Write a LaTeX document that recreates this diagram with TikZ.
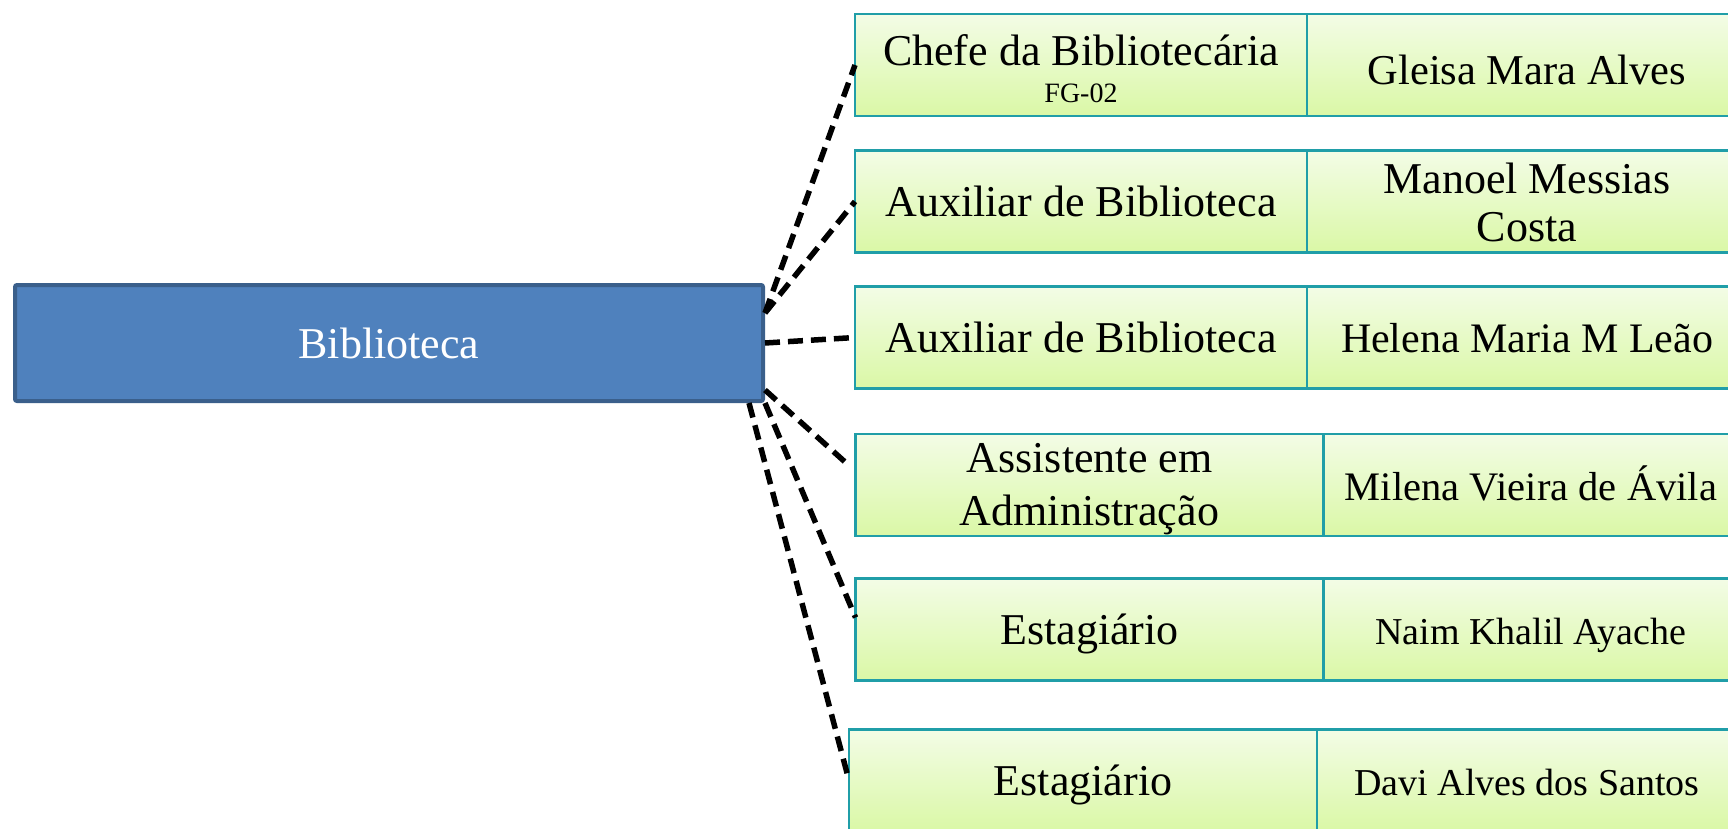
\documentclass[tikz,border=0pt]{standalone}
\usepackage{fontspec}
\setmainfont{Liberation Serif}
\definecolor{verdeclaro}{RGB}{243,252,230}
\definecolor{verdeescuro}{RGB}{218,248,166}
\definecolor{borda}{RGB}{32,158,168}
\definecolor{azul}{RGB}{79,129,189}
\definecolor{azulborda}{RGB}{58,95,139}
\begin{document}
\begin{tikzpicture}[x=1pt,y=-1pt,
		caixa/.style={draw=borda,line width=2.5pt,top color=verdeclaro,bottom color=verdeescuro,inner sep=0pt,outer sep=0pt,minimum height=102pt,align=center,text height=30pt,text depth=0pt,font=\fontsize{44}{48}\selectfont},
		ligacao/.style={line width=5.5pt,dash pattern=on 15pt off 8pt}]
		\useasboundingbox (0,0) rectangle (1728,829);
		\clip (0,0) rectangle (1728,829);
		\node[draw=azulborda,line width=4pt,fill=azul,rounded corners=2pt,text=white,minimum width=748pt,minimum height=116pt,font=\fontsize{44}{48}\selectfont] (bib) at (389,343) {Biblioteca};
		\node[caixa,minimum width=452pt,text height=76pt,font=\fontsize{44}{37}\selectfont] (chefe) at (1081,65) {Chefe da Bibliotecária\\{\fontsize{28}{37}\selectfont FG-02}};
		\node[caixa,minimum width=452pt] (aux1) at (1081,201.5) {Auxiliar de Biblioteca};
		\node[caixa,minimum width=452pt] (aux2) at (1081,337.5) {Auxiliar de Biblioteca};
		\node[caixa,minimum width=468pt,text height=80pt,font=\fontsize{44}{53}\selectfont] (assist) at (1089.5,485) {Assistente em\\Administração};
		\node[caixa,minimum width=468pt] (est1) at (1089.5,629.5) {Estagiário};
		\node[caixa,minimum width=468pt] (est2) at (1083,780.5) {Estagiário};
		\node[caixa,anchor=west,minimum width=440pt,text height=39pt,font=\fontsize{42.5}{48}\selectfont] (gleisa) at (chefe.east) {Gleisa Mara Alves};
		\node[caixa,anchor=west,minimum width=440pt,text height=79pt] (manoel) at (aux1.east) {Manoel Messias\\Costa};
		\node[caixa,anchor=west,minimum width=440pt,font=\fontsize{42}{48}\selectfont] (helena) at (aux2.east) {Helena Maria M Leão};
		\node[caixa,anchor=west,minimum width=415pt,font=\fontsize{40.5}{48}\selectfont] (milena) at (assist.east) {Milena Vieira de Ávila};
		\node[caixa,anchor=west,minimum width=415pt,font=\fontsize{38}{48}\selectfont] (naim) at (est1.east) {Naim Khalil Ayache};
		\node[caixa,anchor=west,minimum width=420pt,font=\fontsize{38}{48}\selectfont] (davi) at (est2.east) {Davi Alves dos Santos};
		\draw[ligacao] ([yshift=-30pt]bib.north east) -- (chefe.west);
		\draw[ligacao] ([yshift=-30pt]bib.north east) -- (aux1.west);
		\draw[ligacao] (bib.east) -- (aux2.west);
		\draw[ligacao] ([yshift=13pt]bib.south east) -- ([xshift=-6pt,yshift=19pt]assist.west);
		\draw[ligacao] (bib.south east) -- ([yshift=12pt]est1.west);
		\draw[ligacao] ([xshift=-16pt]bib.south east) -- (est2.west);
\end{tikzpicture}
\end{document}
